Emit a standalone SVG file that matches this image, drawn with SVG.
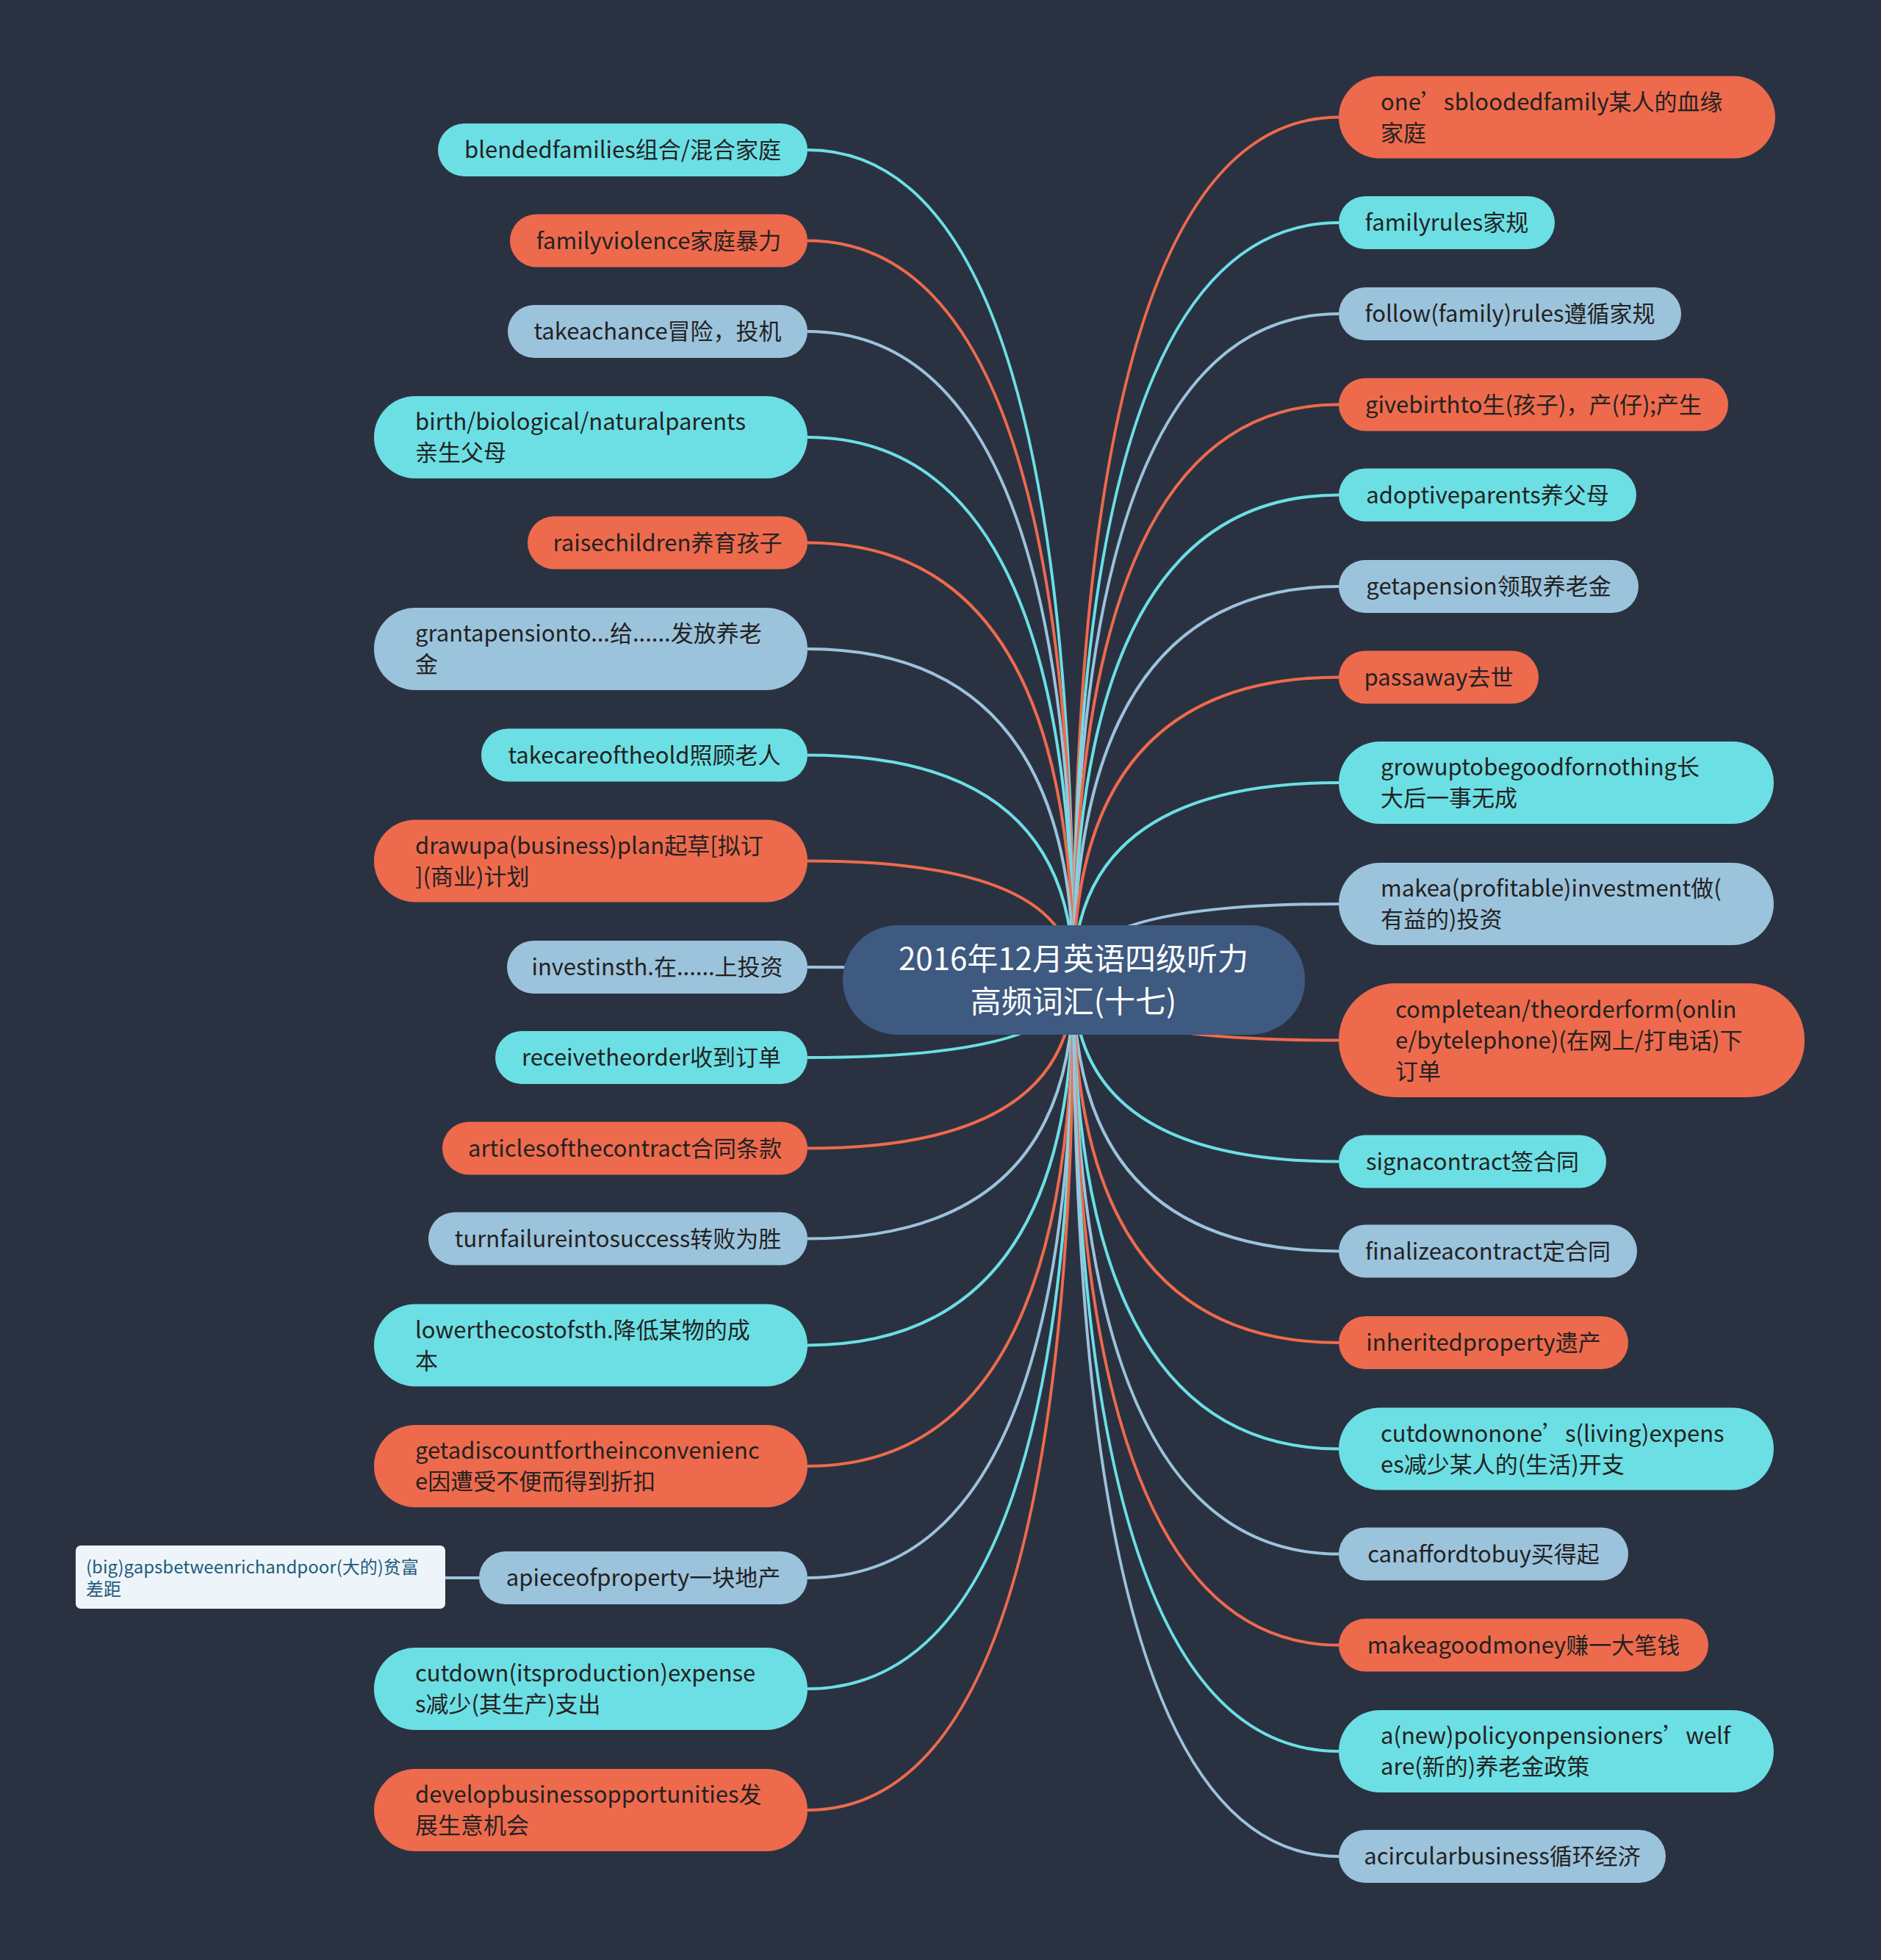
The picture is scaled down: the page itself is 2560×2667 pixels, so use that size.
<svg xmlns="http://www.w3.org/2000/svg" width="2560" height="2667" viewBox="0 0 2560 2667">
<style>
.bg{fill:#2a3242}
.c{fill:#6cdfe4}
.o{fill:#ee6a4d}
.b{fill:#9cc3dc}
.lc{stroke:#6cdfe4}
.lo{stroke:#ee6a4d}
.lb{stroke:#9cc3dc}
#connectors path,#connectors line{fill:none;stroke-width:4}
text{font-family:"Noto Sans CJK SC","Noto Sans",sans-serif}
.t{font-size:31px;fill:#222}
.m{text-anchor:middle}
.center{font-size:42px;fill:#ffffff;text-anchor:middle}
.sub{font-size:24px;fill:#1f5b7c}
</style>
<rect class="bg" x="0" y="0" width="2560" height="2667"/>
<g id="connectors">
<path class="lc" d="M1099 204 Q1461 204 1461 1333"/>
<path class="lo" d="M1099 327.5 Q1461 327.5 1461 1333"/>
<path class="lb" d="M1099 451 Q1461 451 1461 1333"/>
<path class="lc" d="M1099 595 Q1461 595 1461 1333"/>
<path class="lo" d="M1099 738.5 Q1461 738.5 1461 1333"/>
<path class="lb" d="M1099 883 Q1461 883 1461 1333"/>
<path class="lc" d="M1099 1027.5 Q1461 1027.5 1461 1333"/>
<path class="lo" d="M1099 1171.5 Q1461 1171.5 1461 1333"/>
<path class="lb" d="M1099 1316 Q1461 1316 1461 1333"/>
<path class="lc" d="M1099 1439 Q1461 1439 1461 1333"/>
<path class="lo" d="M1099 1562.5 Q1461 1562.5 1461 1333"/>
<path class="lb" d="M1099 1685.5 Q1461 1685.5 1461 1333"/>
<path class="lc" d="M1099 1830.5 Q1461 1830.5 1461 1333"/>
<path class="lo" d="M1099 1995 Q1461 1995 1461 1333"/>
<path class="lb" d="M1099 2147 Q1461 2147 1461 1333"/>
<path class="lc" d="M1099 2298 Q1461 2298 1461 1333"/>
<path class="lo" d="M1099 2463 Q1461 2463 1461 1333"/>
<path class="lo" d="M1822 159.5 Q1461 159.5 1461 1333"/>
<path class="lc" d="M1822 303 Q1461 303 1461 1333"/>
<path class="lb" d="M1822 427 Q1461 427 1461 1333"/>
<path class="lo" d="M1822 550.5 Q1461 550.5 1461 1333"/>
<path class="lc" d="M1822 673.5 Q1461 673.5 1461 1333"/>
<path class="lb" d="M1822 798 Q1461 798 1461 1333"/>
<path class="lo" d="M1822 921.5 Q1461 921.5 1461 1333"/>
<path class="lc" d="M1822 1065 Q1461 1065 1461 1333"/>
<path class="lb" d="M1822 1230 Q1461 1230 1461 1333"/>
<path class="lo" d="M1822 1415.5 Q1461 1415.5 1461 1333"/>
<path class="lc" d="M1822 1580.5 Q1461 1580.5 1461 1333"/>
<path class="lb" d="M1822 1702.5 Q1461 1702.5 1461 1333"/>
<path class="lo" d="M1822 1827 Q1461 1827 1461 1333"/>
<path class="lc" d="M1822 1971.5 Q1461 1971.5 1461 1333"/>
<path class="lb" d="M1822 2114.5 Q1461 2114.5 1461 1333"/>
<path class="lo" d="M1822 2238.5 Q1461 2238.5 1461 1333"/>
<path class="lc" d="M1822 2383 Q1461 2383 1461 1333"/>
<path class="lb" d="M1822 2526 Q1461 2526 1461 1333"/>
<line class="lb" x1="604" y1="2147" x2="654" y2="2147"/>
</g>
<g id="center">
<rect x="1147" y="1259" width="629" height="149" rx="74.5" fill="#3e5a80"/>
<text class="center" x="1461" y="1320">2016年12月英语四级听力</text>
<text class="center" x="1461" y="1378">高频词汇(十七)</text>
</g>
<g id="L1"><rect class="c" x="596" y="168" width="503" height="72" rx="36"/><text class="t m" x="847.5" y="215">blendedfamilies组合/混合家庭</text></g>
<g id="L2"><rect class="o" x="694" y="291.5" width="405" height="72" rx="36"/><text class="t m" x="896.5" y="338.5">familyviolence家庭暴力</text></g>
<g id="L3"><rect class="b" x="691" y="415" width="408" height="72" rx="36"/><text class="t m" x="895" y="462">takeachance冒险，投机</text></g>
<g id="L4"><rect class="c" x="509" y="539" width="590" height="112" rx="56"/><text class="t" x="565" y="585">birth/biological/naturalparents</text><text class="t" x="565" y="627">亲生父母</text></g>
<g id="L5"><rect class="o" x="718" y="702.5" width="381" height="72" rx="36"/><text class="t m" x="908.5" y="749.5">raisechildren养育孩子</text></g>
<g id="L6"><rect class="b" x="509" y="827" width="590" height="112" rx="56"/><text class="t" x="565" y="873">grantapensionto...给......发放养老</text><text class="t" x="565" y="915">金</text></g>
<g id="L7"><rect class="c" x="655" y="991.5" width="444" height="72" rx="36"/><text class="t m" x="877" y="1038.5">takecareoftheold照顾老人</text></g>
<g id="L8"><rect class="o" x="509" y="1115.5" width="590" height="112" rx="56"/><text class="t" x="565" y="1161.5">drawupa(business)plan起草[拟订</text><text class="t" x="565" y="1203.5">](商业)计划</text></g>
<g id="L9"><rect class="b" x="690" y="1280" width="409" height="72" rx="36"/><text class="t m" x="894.5" y="1327">investinsth.在......上投资</text></g>
<g id="L10"><rect class="c" x="674" y="1403" width="425" height="72" rx="36"/><text class="t m" x="886.5" y="1450">receivetheorder收到订单</text></g>
<g id="L11"><rect class="o" x="602" y="1526.5" width="497" height="72" rx="36"/><text class="t m" x="850.5" y="1573.5">articlesofthecontract合同条款</text></g>
<g id="L12"><rect class="b" x="583" y="1649.5" width="516" height="72" rx="36"/><text class="t m" x="841" y="1696.5">turnfailureintosuccess转败为胜</text></g>
<g id="L13"><rect class="c" x="509" y="1774.5" width="590" height="112" rx="56"/><text class="t" x="565" y="1820.5">lowerthecostofsth.降低某物的成</text><text class="t" x="565" y="1862.5">本</text></g>
<g id="L14"><rect class="o" x="509" y="1939" width="590" height="112" rx="56"/><text class="t" x="565" y="1985">getadiscountfortheinconvenienc</text><text class="t" x="565" y="2027">e因遭受不便而得到折扣</text></g>
<g id="L15"><rect class="b" x="652" y="2111" width="447" height="72" rx="36"/><text class="t m" x="875.5" y="2158">apieceofproperty一块地产</text></g>
<g id="L15a"><rect x="103" y="2103" width="503" height="86" rx="7" fill="#eef5fa"/><text class="sub" x="117" y="2141">(big)gapsbetweenrichandpoor(大的)贫富</text><text class="sub" x="117" y="2171">差距</text></g>
<g id="L16"><rect class="c" x="509" y="2242" width="590" height="112" rx="56"/><text class="t" x="565" y="2288">cutdown(itsproduction)expense</text><text class="t" x="565" y="2330">s减少(其生产)支出</text></g>
<g id="L17"><rect class="o" x="509" y="2407" width="590" height="112" rx="56"/><text class="t" x="565" y="2453">developbusinessopportunities发</text><text class="t" x="565" y="2495">展生意机会</text></g>
<g id="R1"><rect class="o" x="1822" y="103.5" width="594" height="112" rx="56"/><text class="t" x="1879" y="149.5">one’sbloodedfamily某人的血缘</text><text class="t" x="1879" y="191.5">家庭</text></g>
<g id="R2"><rect class="c" x="1822" y="267" width="294" height="72" rx="36"/><text class="t m" x="1969" y="314">familyrules家规</text></g>
<g id="R3"><rect class="b" x="1822" y="391" width="466" height="72" rx="36"/><text class="t m" x="2055" y="438">follow(family)rules遵循家规</text></g>
<g id="R4"><rect class="o" x="1822" y="514.5" width="530" height="72" rx="36"/><text class="t m" x="2087" y="561.5">givebirthto生(孩子)，产(仔);产生</text></g>
<g id="R5"><rect class="c" x="1822" y="637.5" width="405" height="72" rx="36"/><text class="t m" x="2024.5" y="684.5">adoptiveparents养父母</text></g>
<g id="R6"><rect class="b" x="1822" y="762" width="408" height="72" rx="36"/><text class="t m" x="2026" y="809">getapension领取养老金</text></g>
<g id="R7"><rect class="o" x="1822" y="885.5" width="272" height="72" rx="36"/><text class="t m" x="1958" y="932.5">passaway去世</text></g>
<g id="R8"><rect class="c" x="1822" y="1009" width="592" height="112" rx="56"/><text class="t" x="1879" y="1055">growuptobegoodfornothing长</text><text class="t" x="1879" y="1097">大后一事无成</text></g>
<g id="R9"><rect class="b" x="1822" y="1174" width="592" height="112" rx="56"/><text class="t" x="1879" y="1220">makea(profitable)investment做(</text><text class="t" x="1879" y="1262">有益的)投资</text></g>
<g id="R10"><rect class="o" x="1822" y="1338" width="634" height="155" rx="77"/><text class="t" x="1899" y="1384.5">completean/theorderform(onlin</text><text class="t" x="1899" y="1426.5">e/bytelephone)(在网上/打电话)下</text><text class="t" x="1899" y="1468.5">订单</text></g>
<g id="R11"><rect class="c" x="1822" y="1544.5" width="364" height="72" rx="36"/><text class="t m" x="2004" y="1591.5">signacontract签合同</text></g>
<g id="R12"><rect class="b" x="1822" y="1666.5" width="406" height="72" rx="36"/><text class="t m" x="2025" y="1713.5">finalizeacontract定合同</text></g>
<g id="R13"><rect class="o" x="1822" y="1791" width="394" height="72" rx="36"/><text class="t m" x="2019" y="1838">inheritedproperty遗产</text></g>
<g id="R14"><rect class="c" x="1822" y="1915.5" width="592" height="112" rx="56"/><text class="t" x="1879" y="1961.5">cutdownonone’s(living)expens</text><text class="t" x="1879" y="2003.5">es减少某人的(生活)开支</text></g>
<g id="R15"><rect class="b" x="1822" y="2078.5" width="394" height="72" rx="36"/><text class="t m" x="2019" y="2125.5">canaffordtobuy买得起</text></g>
<g id="R16"><rect class="o" x="1822" y="2202.5" width="503" height="72" rx="36"/><text class="t m" x="2073.5" y="2249.5">makeagoodmoney赚一大笔钱</text></g>
<g id="R17"><rect class="c" x="1822" y="2327" width="592" height="112" rx="56"/><text class="t" x="1879" y="2373">a(new)policyonpensioners’welf</text><text class="t" x="1879" y="2415">are(新的)养老金政策</text></g>
<g id="R18"><rect class="b" x="1822" y="2490" width="445" height="72" rx="36"/><text class="t m" x="2044.5" y="2537">acircularbusiness循环经济</text></g>
</svg>
